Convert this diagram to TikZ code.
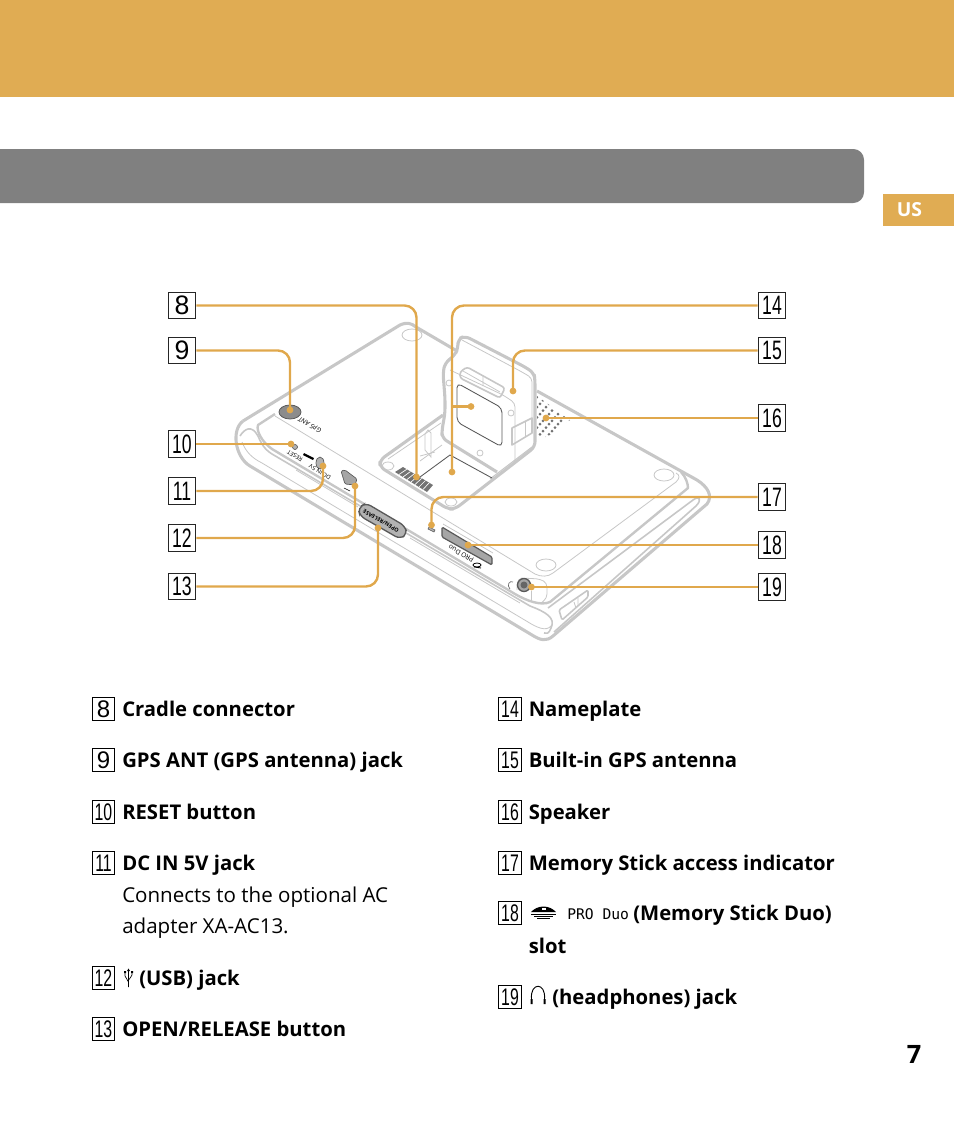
\documentclass[tikz,border=0pt]{standalone}
\usepackage{fontspec}
\usepackage{graphicx}
\setmainfont{Open Sans}
\newfontfamily\numfont{Liberation Sans}
\newfontfamily\prodfont{DejaVu Sans Mono}
\usetikzlibrary{positioning, calc}
\definecolor{BandOrange}{rgb}{0.878, 0.675, 0.325}
\definecolor{LeaderOrange}{rgb}{0.88, 0.66, 0.30}
\definecolor{BarGray}{rgb}{0.5, 0.5, 0.5}
\definecolor{BodyGray}{rgb}{0.78, 0.78, 0.78}
\definecolor{EdgeGray}{rgb}{0.35, 0.35, 0.35}
\newcommand{\boxdigits}[1]{\ifnum#1>9 \scalebox{0.66}[1]{#1}\else #1\fi}
\tikzset{
  bodyline/.style={draw=BodyGray, line width=2.3pt, line join=round},
  midline/.style={draw=BodyGray, line width=1.2pt, line join=round},
  thinline/.style={draw=BodyGray, line width=0.6pt},
  darkline/.style={draw=EdgeGray, line width=0.65pt},
  leader/.style={draw=LeaderOrange, line width=1.8pt, rounded corners=9pt},
  bignum/.style={draw=black!85, line width=0.9pt, inner sep=0pt, minimum width=20.5pt, minimum height=20pt,
      font=\numfont\fontsize{20}{22}\selectfont},
  keynum/.style={draw=black, line width=0.55pt, inner sep=0pt, minimum width=17pt, minimum height=17pt,
      font=\numfont\fontsize{18}{20}\selectfont},
  keytext/.style={anchor=base west, inner sep=0pt, font=\fontsize{15.2}{18}\selectfont\bfseries},
  notetext/.style={anchor=base west, inner sep=0pt, font=\fontsize{15.4}{18}\selectfont},
  tinytext/.style={inner sep=0pt, rotate=150, font=\fontsize{4.4}{5}\selectfont}
}
\begin{document}
\begin{tikzpicture}[x=0.75pt, y=-0.75pt]
\useasboundingbox (0,0) rectangle (954,1129);

% bandas
\fill[BandOrange] (0,0) rectangle (954,97);
\fill[BarGray] (0,149) [rounded corners=8pt] -- (864,149) -- (864,203) [sharp corners] -- (0,203) -- cycle;
\fill[BandOrange] (883,194) rectangle (954,226);
\node[text=white, font=\fontsize{14.5}{16}\selectfont\bfseries] (tab) at (909.5,210) {US};
\node[font=\fontsize{19}{22}\selectfont\bfseries] (page) at (914,1054) {7};

% cuerpo
\draw[bodyline] (243,421) -- (400,325) .. controls (407,322) and (411,323) .. (416,327) -- (457,351);
\draw[bodyline] (537,391) -- (697,480) .. controls (708,487) and (713,496) .. (707,504) -- (553,636)
    .. controls (546,642) and (540,640) .. (532,635) -- (250,466) .. controls (235,457) and (231,430) .. (243,421);
\draw[bodyline, line width=1.8pt] (275,414) -- (258,425) .. controls (256,431) and (262,442) .. (272,449) -- (515,594)
    .. controls (527,601) and (541,606) .. (550,602) -- (688,488) .. controls (688,484) and (686,477) .. (681,472);
\draw[thinline] (275,416) -- (535,574) .. controls (541,577) and (548,577) .. (553,573) -- (676,482)
    .. controls (680,478) and (680,475) .. (676,473);
\draw[midline] (240,436) .. controls (245,428) and (252,425) .. (258,436) .. controls (261,443) and (264,449) .. (272,454)
    -- (530,606) .. controls (546,612) and (556,618) .. (551,628) .. controls (549,634) and (546,634) .. (544,633);
\draw[thinline] (242,442) .. controls (246,452) and (252,458) .. (262,463) -- (528,622) .. controls (536,627) and (546,632) .. (551,626);
\draw[thinline] (296,470) -- (358,507) (410,538) -- (520,603);
\draw[midline] (554,632) -- (696,506) .. controls (702,500) and (700,495) .. (693,500) -- (548,608);
\draw[thinline] (412,335) ellipse (10 and 6);
\draw[thinline] (664,475) ellipse (10 and 6);
\draw[thinline] (546,565) ellipse (10 and 6);
\draw[thinline] (388,466) ellipse (6 and 4);
\draw[thinline] (451,502) ellipse (6 and 4);

% rebaje y soporte
\draw[bodyline, rounded corners=4pt] (443,415) -- (380,460) -- (380,467) -- (448,509) -- (455,509) -- (535,447) -- (535,380) -- (534,373) -- (525,367)
    -- (465,336) -- (458,339) -- (458,348) -- (455,355) -- (445,363) -- (443,373) -- (445,398) -- (445,413) -- (442,430) -- (442,438) -- (497,472);
\draw[thinline, rounded corners=3pt] (462,340) -- (522,372) -- (532,378) -- (532,418);
\draw[thinline, rounded corners=3pt] (450,370) -- (503,395) -- (515,403) -- (515,461);
\draw[thinline] (388,459) -- (441,423) (442,445) -- (420,461);
\draw[midline, line width=0.8pt] (490,479) -- (532,447);
\draw[thinline] (480,453) circle (3) (511,413) circle (3) (449,383) circle (3);
\draw[thinline] (425,434) -- (425,450) -- (431,457) -- (431,433) -- (428,430) -- cycle (420,456) -- (435,452);
\draw[darkline, rounded corners=3.5pt] (457,383) -- (502,408) -- (502,447) -- (457,422) -- cycle;
\draw[midline, rounded corners=2pt] (460,372) -- (467,367) -- (505,388) -- (500,398) -- (460,378) -- cycle;
\draw[thinline] (463,371) -- (500,392) (483,376) -- (483,386);
\draw[midline] (512,428) -- (532,418) -- (532,433) -- (512,445) -- cycle;
\draw[thinline] (525,421) -- (525,437);
\draw[darkline] (420,477) -- (450,455) -- (492,478);

% conector de la base
\fill[black!55] (395,472) -- (403,467) -- (433,485) -- (427,492) -- cycle;
\foreach \t in {1,...,7}{
    \draw[white, line width=0.5pt] ($(395,472)!\t/8!(427,492)$) -- ($(403,467)!\t/8!(433,485)$);
}

% altavoz
\begin{scope}
\clip (537,396) -- (570,420) -- (552,434) -- (543,438) -- (537,436) -- cycle;
\foreach \a in {0,...,9}{
    \foreach \b in {-4,...,9}{
        \fill[black!55] ({537+\a*6-\b*3},{397+\a*3.4+\b*3.4}) circle (1.5);
    }
}
\end{scope}

% tomas
\draw[EdgeGray, fill=black!45, line width=0.6pt] (290,412) ellipse (11 and 7);
\node[tinytext, font=\fontsize{5}{6}\selectfont\itshape] (gpstext) at (310,425) {GPS ANT};
\draw[EdgeGray, fill=black!30, line width=0.5pt] (295,447) circle (2.5);
\node[tinytext] (resettext) at (295,456) {RESET};
\draw[EdgeGray, fill=black!30, line width=0.5pt] (320,463) ellipse (4 and 6);
\fill[black] (304,453) -- (314,458) -- (313,460) -- (303,455) -- cycle;
\node[tinytext] (dctext) at (320,472) {DC IN 5V};
\draw[EdgeGray, fill=black!35, line width=0.5pt, rounded corners=1pt] (341,471) -- (345,470) -- (357,479) -- (355,485) -- (345,484) -- cycle;
\draw[black, line width=0.4pt] (344,488) -- (350,491);
\draw[EdgeGray, fill=black!30, line width=1pt, rounded corners=4pt] (358,508) -- (366,503) -- (405,526) -- (407,534) -- (400,539) -- (360,516) -- cycle;
\node[tinytext, font=\fontsize{4.1}{5}\selectfont\bfseries] (opentext) at (381,521) {OPEN/RELEASE};
\draw[EdgeGray, fill=black!30, line width=0.4pt] (429,527) -- (435,530) -- (434,532) -- (428,529) -- cycle;
\draw[EdgeGray, fill=black!35, line width=0.9pt, rounded corners=1pt] (442,527) -- (492,557) -- (492,565) -- (442,537) -- cycle;
\draw[thinline] (443,524) -- (493,553);
\node[tinytext, font=\fontsize{5}{6}\selectfont] (slottext) at (461,554) {PRO Duo};
\draw[black, line width=0.6pt] (477,565) ellipse (4 and 2) (474,567) -- (481,568);
\draw[thinline, rounded corners=3pt] (517,590) -- (517,581) -- (522,578) -- (540,579) -- (547,583) -- (547,598) -- (540,604);
\draw[thinline] (531,591) -- (531,601);
\draw[EdgeGray, fill=black!35, line width=1pt] (524,585) circle (6.5);
\fill[black!60] (524,585) circle (3.5);
\draw[black!60, line width=0.5pt] (510,589) .. controls (506,585) and (510,580) .. (513,582);
\draw[midline, rounded corners=1pt] (559,610) -- (588,590) -- (588,597) -- (562,620) -- cycle;
\draw[thinline] (574,602) -- (576,608) (578,598) -- (578,606);

% puntos de las flechas
\foreach \n/\px/\py in {8/416.5/477,9/290/410,10/291/444,11/323/466,12/355/486,13/378/528,
    14/452/472,15/513/391,16/546/418,17/431.5/525,18/468/545,19/531.5/587}{
    \coordinate (dot\n) at (\px,\py);
}
\coordinate (dotplate) at (471,406.5);

% numeros del dibujo
\foreach \n/\y in {8/305.5,9/350.5,10/444,11/491,12/538,13/586.5}{
    \node[bignum] (num\n) at (182,\y) {\boxdigits{\n}};
}
\foreach \n/\y in {14/305.5,15/350.5,16/418,17/497,18/545,19/587}{
    \node[bignum] (num\n) at (772,\y) {\boxdigits{\n}};
}
\foreach \n in {8,9,11,12,13,14,15,17}{
    \draw[leader] (num\n) -| (dot\n);
}
\foreach \n in {10,16,18,19}{
    \draw[leader] (num\n) -- (dot\n);
}
\draw[leader] (dotplate) -- (dotplate -| dot14);
\foreach \n in {8,...,19}{
    \fill[LeaderOrange] (dot\n) circle (3.4);
}
\fill[LeaderOrange] (dotplate) circle (3.4);

% lista izquierda
\foreach \n/\y/\t in {8/709/Cradle connector,9/760/GPS ANT (GPS antenna) jack,10/812/RESET button,
    11/863/DC IN 5V jack,13/1029/{OPEN/RELEASE button}}{
    \node[keynum] (key\n) at (103.5,\y) {\boxdigits{\n}};
    \node[keytext] (item\n) at (122,\y+7) {\t};
}
\node[notetext] (noteone) at (122,902) {Connects to the optional AC};
\node[notetext] (notetwo) at (122,933) {adapter XA-AC13.};
\node[keynum] (key12) at (103.5,978) {\boxdigits{12}};
\draw[black, line width=0.5pt] (128.5,987) -- (128.5,970) (125,972) -- (125,976) .. controls (125,979) and (128.5,979) .. (128.5,982)
    (132,972) -- (132,975) .. controls (132,978) and (128.5,978) .. (128.5,980);
\fill[black] (128.5,968.5) -- (127,971) -- (130,971) -- cycle (124,971) rectangle (126,973) (131,971) rectangle (133,973);
\node[keytext] (item12) at (139,985) {(USB) jack};

% lista derecha
\foreach \n/\y/\t in {14/709/Nameplate,15/760/Built-in GPS antenna,16/812/Speaker,
    17/863/Memory Stick access indicator}{
    \node[keynum] (key\n) at (510,\y) {\boxdigits{\n}};
    \node[keytext] (item\n) at (528.5,\y+7) {\t};
}
\node[keynum] (key18) at (510,913) {\boxdigits{18}};
\fill[black] (543.5,906.5) .. controls (549,906.5) and (553,909) .. (556,912) -- (531,912) .. controls (534,909) and (538,906.5) .. (543.5,906.5);
\fill[white] (541.5,907.5) rectangle (545.5,909.5);
\draw[black, line width=0.5pt] (531,914) -- (556,914) (534,916) -- (553,916) (537,918) -- (550,918);
\node[anchor=base west, inner sep=0pt, font=\prodfont\fontsize{11}{12}\selectfont] (produo) at (567,919) {PRO Duo};
\node[keytext] (item18) at (633,920) {(Memory Stick Duo)};
\node[keytext] (itemslot) at (528.5,953) {slot};
\node[keynum] (key19) at (510,997) {\boxdigits{19}};
\draw[black, line width=0.7pt] (531.5,999) .. controls (530,982) and (546,982) .. (544.5,999);
\fill[black] (530.5,999) rectangle (532.5,1004) (543.5,999) rectangle (545.5,1004);
\node[keytext] (item19) at (552,1004) {(headphones) jack};

\end{tikzpicture}
\end{document}
